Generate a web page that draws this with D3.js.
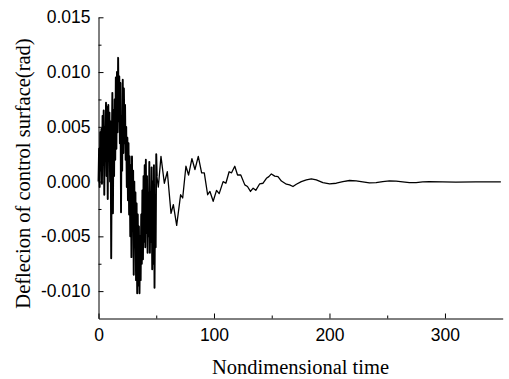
<!DOCTYPE html>
<html>
<head>
<meta charset="utf-8">
<script src="https://cdn.jsdelivr.net/npm/d3@7"></script>
<style>
  body { margin: 0; background: #fff; }
  svg { display: block; }
  .tick text { font-family: "Liberation Sans", Arial, sans-serif; font-size: 17.5px; fill: #000; }
  .title { font-family: "Liberation Serif", "Times New Roman", serif; font-size: 20.5px; fill: #000; }
</style>
</head>
<body>
<script>
// time steps (nondimensional)
const time = [
  0, 0.5, 1, 1.5, 2, 2.5, 3, 3.5, 4, 4.5, 5, 5.5, 6, 6.5, 7, 7.5, 8, 8.5, 9, 9.5,
  10, 10.5, 11, 11.5, 12, 12.5, 13, 13.5, 14, 14.5, 15, 15.5, 16, 16.5, 17, 17.5, 18, 18.5, 19, 19.5,
  20, 20.5, 21, 21.5, 22, 22.5, 23, 23.5, 24, 24.5, 25, 25.5, 26, 26.5, 27, 27.5, 28, 28.5, 29, 29.5,
  30, 30.5, 31, 31.5, 32, 32.5, 33, 33.5, 34, 34.5, 35, 35.5, 36, 36.5, 37, 37.5, 38, 38.5, 39, 39.5,
  40, 40.5, 41, 41.5, 42, 42.5, 43, 43.5, 44, 44.5, 45, 45.5, 46, 46.5, 47, 47.5, 48, 48.5, 49, 49.5,
  50, 50.5, 51.8, 54.1, 57, 59.6, 62.8, 64.8, 67.7, 71.1, 72.9, 75.7, 78, 80.9, 83.5, 86.4, 89.3, 91.6,
  94.5, 96.5, 99.3, 102.2, 104.5, 107.9, 110.3, 113.1, 115.2, 118, 120.4, 123.2, 126.7, 129, 131.6,
  133.9, 136.2, 139.6, 142.5, 145.4, 147.5, 149.7, 152.6, 155.4, 158.4, 162.7, 165.5, 168.4, 171.3,
  175.6, 180, 184.3, 188.6, 194.3, 200.1, 205.9, 211.6, 217.4, 223.1, 228.8, 234.6, 240.4, 246.1,
  251.9, 257.7, 263.4, 269.2, 275, 280.7, 286.4, 297.9, 309.5, 326.8, 348.4
];

// deflection of control surface (rad)
const deflection = [
  0, 0.0030, -0.0005, 0.0045, 0.0010, 0.0048, -0.0002, 0.0060, 0.0015, 0.0065,
  -0.0012, 0.0050, 0.0020, 0.0072, 0.0005, 0.0068, -0.0016, 0.0070, 0.0030, 0.0063,
  0.0000, 0.0055, -0.0070, 0.0030, 0.0081, -0.0029, 0.0065, 0.0005, 0.0075, 0.0020,
  0.0095, 0.0030, 0.0100, 0.0045, 0.0113, 0.0055, 0.0096, 0.0035, 0.0090, -0.0028,
  0.0060, 0.0010, 0.0093, 0.0026, 0.0085, 0.0035, 0.0070, 0.0020, 0.0050, -0.0005,
  0.0040, -0.0017, 0.0035, -0.0030, 0.0023, -0.0050, 0.0015, -0.0069, 0.0023, -0.0040,
  0.0010, -0.0085, 0.0000, -0.0060, -0.0010, -0.0090, -0.0020, -0.0102, -0.0030, -0.0095,
  -0.0041, -0.0102, -0.0050, -0.0090, -0.0030, -0.0075, -0.0008, -0.0071, 0.0005, -0.0055,
  0.0015, -0.0060, 0.0020, -0.0047, 0.0005, -0.0065, -0.0010, -0.0050, 0.0018, -0.0065,
  -0.0010, -0.0055, 0.0013, -0.0080, 0.0000, -0.0075, 0.0015, -0.0097, -0.0020, -0.0060,
  0.0025, 0.0005, -0.0005, 0.0023, -0.00015, 0.0009, -0.0029, -0.0021, -0.0040, -0.0012,
  -0.0015, 0.0014, 0.0006, 0.0021, 0.0011, 0.0023, 0.0008, 0.0008,
  -0.0012, -0.0009, -0.0018, -0.0008, -0.0011, 0.0000, -0.00015, 0.0009, 0.0008, 0.0014,
  0.0006, 0.0006, -0.0003, -0.00045, -0.0009,
  -0.0006, -0.0008, -0.0002, -0.00015, 0.0003, 0.00045, 0.0007, 0.0005, 0.00045, 0.00005,
  -0.00024, -0.0003, -0.00045, -0.00024,
  0.0000, 0.00015, 0.00025, 0.00015, -0.0001, -0.0002, -0.00015, 0.0000, 0.0001, 0.00006,
  -0.00003, -0.00012, -0.0001, 0.0000,
  0.00006, 0.00004, -0.00003, -0.00009, -0.00009, -0.00003, 0.0000, -0.00003, -0.00005,
  -0.00003, -0.00003
];

const xTicks = [0, 100, 200, 300];
const xMinor = [50, 150, 250];
const yTicks = [-0.010, -0.005, 0.000, 0.005, 0.010, 0.015];
const yMinor = [-0.0075, -0.0025, 0.0025, 0.0075, 0.0125];

const W = 509, H = 379;
const svg = d3.select("body").append("svg")
  .attr("width", W)
  .attr("height", H);

const x = d3.scaleLinear().domain([0, 350]).range([98.5, 502.7]);
const y = d3.scaleLinear().domain([-0.0125, 0.015]).range([318.5, 17.3]);

// minor ticks (no labels)
svg.append("g")
  .attr("transform", "translate(0,318.5)")
  .call(d3.axisBottom(x).tickValues(xMinor).tickSizeInner(-3).tickSizeOuter(0).tickFormat(""))
  .call(g => g.select(".domain").remove());
svg.append("g")
  .attr("transform", "translate(98.5,0)")
  .call(d3.axisLeft(y).tickValues(yMinor).tickSizeInner(-3).tickSizeOuter(0).tickFormat(""))
  .call(g => g.select(".domain").remove());

// major axes
svg.append("g")
  .attr("transform", "translate(0,318.5)")
  .call(d3.axisBottom(x).tickValues(xTicks).tickSizeInner(-5).tickSizeOuter(0).tickPadding(10)
    .tickFormat(d => String(d)));
svg.append("g")
  .attr("transform", "translate(98.5,0)")
  .call(d3.axisLeft(y).tickValues(yTicks).tickSizeInner(-5).tickSizeOuter(0).tickPadding(8)
    .tickFormat(d => d.toFixed(3)));

svg.selectAll(".domain, .tick line").attr("stroke", "#000").attr("stroke-width", 1);

// the response curve; the dense early part is drawn a bit heavier, like the original
const line = d3.line()
  .x(d => x(d[0]))
  .y(d => y(d[1]));

const pts = time.map((t, i) => [t, deflection[i]]);
const split = time.indexOf(50.5);

svg.append("path")
  .datum(pts.slice(0, split + 1))
  .attr("fill", "none")
  .attr("stroke", "#000")
  .attr("stroke-width", 1.9)
  .attr("stroke-linejoin", "round")
  .attr("d", line);

svg.append("path")
  .datum(pts.slice(split))
  .attr("fill", "none")
  .attr("stroke", "#000")
  .attr("stroke-width", 1.3)
  .attr("stroke-linejoin", "round")
  .attr("d", line);

// axis titles
svg.append("text")
  .attr("class", "title")
  .attr("x", 300.5)
  .attr("y", 374)
  .attr("text-anchor", "middle")
  .text("Nondimensional time");

svg.append("text")
  .attr("class", "title")
  .attr("transform", "translate(29.5,173.5) rotate(-90)")
  .attr("text-anchor", "middle")
  .text("Deflecion of control surface(rad)");
</script>
</body>
</html>
